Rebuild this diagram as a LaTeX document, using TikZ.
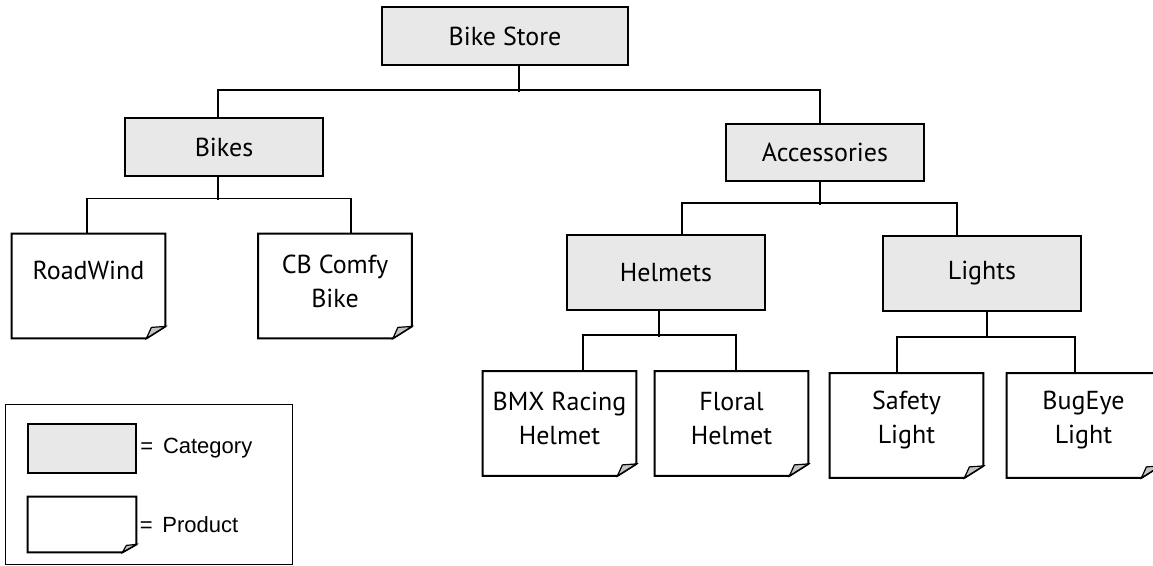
\documentclass[tikz,border=0pt]{standalone}
\usepackage{fontspec}
\setmainfont{PT Sans}
\newfontfamily\legendfont{Liberation Sans}
\usetikzlibrary{calc}
\definecolor{catgray}{HTML}{E8E8E8}
\definecolor{foldgray}{HTML}{C4C4C4}
\tikzset{
  category/.style={rectangle, draw, line width=1pt, fill=catgray, inner sep=0pt,
    minimum width=99pt, minimum height=29pt, font=\fontsize{13}{15}\selectfont},
  product/.style={rectangle, inner sep=0pt, minimum width=76.5pt, minimum height=52pt},
  prodtext/.style={align=center, inner sep=0pt, font=\fontsize{13}{17}\selectfont},
  keytext/.style={anchor=west, inner sep=0pt, font=\legendfont\fontsize{11}{13}\selectfont},
  link/.style={line width=0.75pt},
}
\begin{document}
\begin{tikzpicture}[x=0.5pt, y=-0.5pt]
        \useasboundingbox (0,0) rectangle (1153,566);
        % Categories (top to bottom)
        \node (store) at (505,36) [category, minimum width=123pt] {Bike Store};
        \node (bikes) at (224,147) [category] {Bikes};
        \node (accessories) at (825,152.5) [category, minimum height=28.5pt] {Accessories};
        \node (helmets) at (666,272.5) [category, minimum height=37.5pt] {Helmets};
        \node (lights) at (982,273.5) [category, minimum height=37.5pt] {Lights};
        % Products
        \node (roadwind) at (88.5,286) [product] {};
        \node (cbcomfy) at (335,286) [product] {};
        \node (bmx) at (559.5,423.5) [product] {};
        \node (floral) at (731.5,423.5) [product] {};
        \node (safety) at (906.5,425.5) [product] {};
        \node (bugeye) at (1083.5,425.5) [product] {};
        \foreach \n in {roadwind,cbcomfy,bmx,floral,safety,bugeye} {
          \draw[line width=1pt] (\n.north west) -- (\n.north east) -- ($(\n.south east)+(0,-12)$)
            -- ($(\n.south east)+(-19,0)$) -- (\n.south west) -- cycle;
          \draw[fill=foldgray, line width=0.6pt] ($(\n.south east)+(-19,0)$) -- ($(\n.south east)+(-14,-11)$)
            -- ($(\n.south east)+(0,-12)$) -- cycle;
        }
        \node (roadwind_t) at ($(roadwind)+(0,-16)$) [prodtext] {RoadWind};
        \node (cbcomfy_t) at ($(cbcomfy)+(0,-5)$) [prodtext] {CB Comfy\\Bike};
        \node (bmx_t) at ($(bmx)+(0,-5)$) [prodtext] {BMX Racing\\Helmet};
        \node (floral_t) at ($(floral)+(0,-5)$) [prodtext] {Floral\\Helmet};
        \node (safety_t) at ($(safety)+(0,-5)$) [prodtext] {Safety\\Light};
        \node (bugeye_t) at ($(bugeye)+(0,-5)$) [prodtext] {BugEye\\Light};
        % Edges
        \draw[link] ($(store.south)+(14,0)$) -- ++(0,26);
        \draw[link] ($(bikes.north)+(-6,0)$) -- ++(0,-27) -| ($(accessories.north)+(-5,0)$);
        \draw[link] ($(bikes.south)+(-6,0)$) -- ++(0,23);
        \draw[link] ($(roadwind.north)+(-1.5,0)$) -- ++(0,-35) -| ($(cbcomfy.north)+(16,0)$);
        \draw[link] ($(accessories.south)+(-5,0)$) -- ++(0,23);
        \draw[link] ($(helmets.north)+(16,0)$) -- ++(0,-31) -| ($(lights.north)+(-25,0)$);
        \draw[link] ($(helmets.south)+(-7,0)$) -- ++(0,26);
        \draw[link] ($(bmx.north)+(23.5,0)$) -- ++(0,-36) -| ($(floral.north)+(4.5,0)$);
        \draw[link] ($(lights.south)+(5,0)$) -- ++(0,26);
        \draw[link] ($(safety.north)+(-9.5,0)$) -- ++(0,-36) -| ($(bugeye.north)+(-8.5,0)$);
        % Legend
        \node (legend) at (148.5,485) [draw, line width=0.5pt, minimum width=143.5pt, minimum height=80pt] {};
        \node (catkey) at (82,448.5) [category, minimum width=54pt, minimum height=24.5pt] {};
        \node (prodkey) at (82,524.5) [product, minimum width=54pt, minimum height=27.5pt] {};
        \draw[line width=1pt] (prodkey.north west) -- (prodkey.north east) -- ($(prodkey.south east)+(0,-8)$)
          -- ($(prodkey.south east)+(-14,0)$) -- (prodkey.south west) -- cycle;
        \draw[fill=foldgray, line width=0.6pt] ($(prodkey.south east)+(-14,0)$) -- ($(prodkey.south east)+(-10,-7)$)
          -- ($(prodkey.south east)+(0,-8)$) -- cycle;
        \node (catkey_t) at ($(catkey.east)+(3,0)$) [keytext] {=\, Category};
        \node (prodkey_t) at ($(prodkey.east)+(3,0)$) [keytext] {=\, Product};
      \end{tikzpicture}
\end{document}
